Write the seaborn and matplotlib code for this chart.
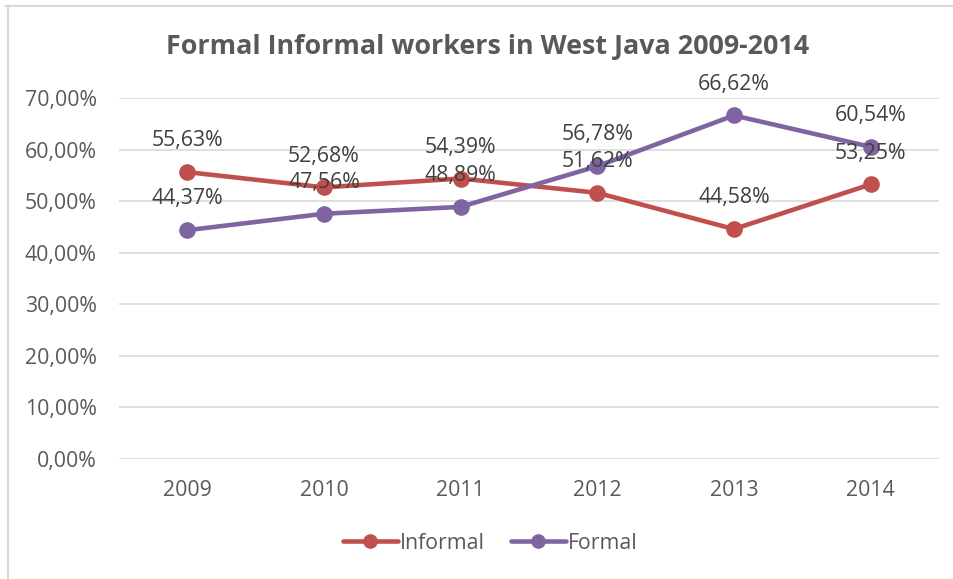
import matplotlib
matplotlib.use("Agg")
import matplotlib.pyplot as plt
from matplotlib.lines import Line2D
import seaborn as sns
import pandas as pd

years = ["2009", "2010", "2011", "2012", "2013", "2014"]
informal = [55.63, 52.68, 54.39, 51.62, 44.58, 53.25]
formal = [44.37, 47.56, 48.89, 56.78, 66.62, 60.54]
series_names = ["Informal", "Formal"]
y_ticks = [0, 10, 20, 30, 40, 50, 60, 70]

colors = {"Informal": "#C0504D", "Formal": "#8064A2"}

df = pd.DataFrame({
    "year": years * 2,
    "value": informal + formal,
    "series": ["Informal"] * len(years) + ["Formal"] * len(years),
})

sns.set_theme(style="white")
plt.rcParams["font.family"] = ["Open Sans", "DejaVu Sans"]

fig = plt.figure(figsize=(9.54, 5.79), dpi=100)
ax = fig.add_axes([0.1247, 0.2073, 0.8595, 0.6234])

sns.pointplot(data=df, x="year", y="value", hue="series", order=years,
              hue_order=series_names, palette=colors, markers="o",
              linestyles="-", linewidth=3.3, markersize=9.5, ax=ax,
              legend=False)

ax.set_xlim(-0.5, len(years) - 0.5)
ax.set_ylim(0, 70)
ax.set_yticks(y_ticks)
ax.set_yticklabels([f"{v:.2f}".replace(".", ",") + "%" for v in y_ticks])
ax.set_xlabel("")
ax.set_ylabel("")
ax.yaxis.grid(True, color="#D9D9D9", linewidth=1.2)
ax.set_axisbelow(True)
for s in ax.spines.values():
    s.set_visible(False)
ax.tick_params(axis="both", length=0, labelsize=15.3, colors="#595959")
ax.tick_params(axis="y", pad=16)
ax.tick_params(axis="x", pad=15)

# data labels above each point
for name, vals in zip(series_names, [informal, formal]):
    for i, v in enumerate(vals):
        ax.annotate(f"{v:.2f}".replace(".", ",") + "%", xy=(i, v),
                    xytext=(0, 22.5), textcoords="offset points",
                    ha="center", va="center", fontsize=15.3, color="#404040")

fig.text(0.511, 0.918, "Formal Informal workers in West Java 2009-2014",
         ha="center", va="center", fontsize=19.4, fontweight="bold",
         color="#595959")

handles = [Line2D([0], [0], color=colors[n], lw=3.3, marker="o",
                  markersize=9.5) for n in series_names]
fig.legend(handles, series_names, loc="center", bbox_to_anchor=(0.514, 0.062),
           ncol=2, frameon=False, fontsize=15.3, handlelength=2.6,
           handletextpad=0.1, columnspacing=1.2, labelcolor="#595959")

# chart frame edges
fig.add_artist(Line2D([8 / 954, 8 / 954], [0, 1 - 6 / 579],
                      transform=fig.transFigure, color="#D9D9D9", lw=1.5))
fig.add_artist(Line2D([5 / 954, 1], [1 - 6 / 579, 1 - 6 / 579],
                      transform=fig.transFigure, color="#D9D9D9", lw=1.5))

fig.savefig("out.png", dpi=100, facecolor="white")
